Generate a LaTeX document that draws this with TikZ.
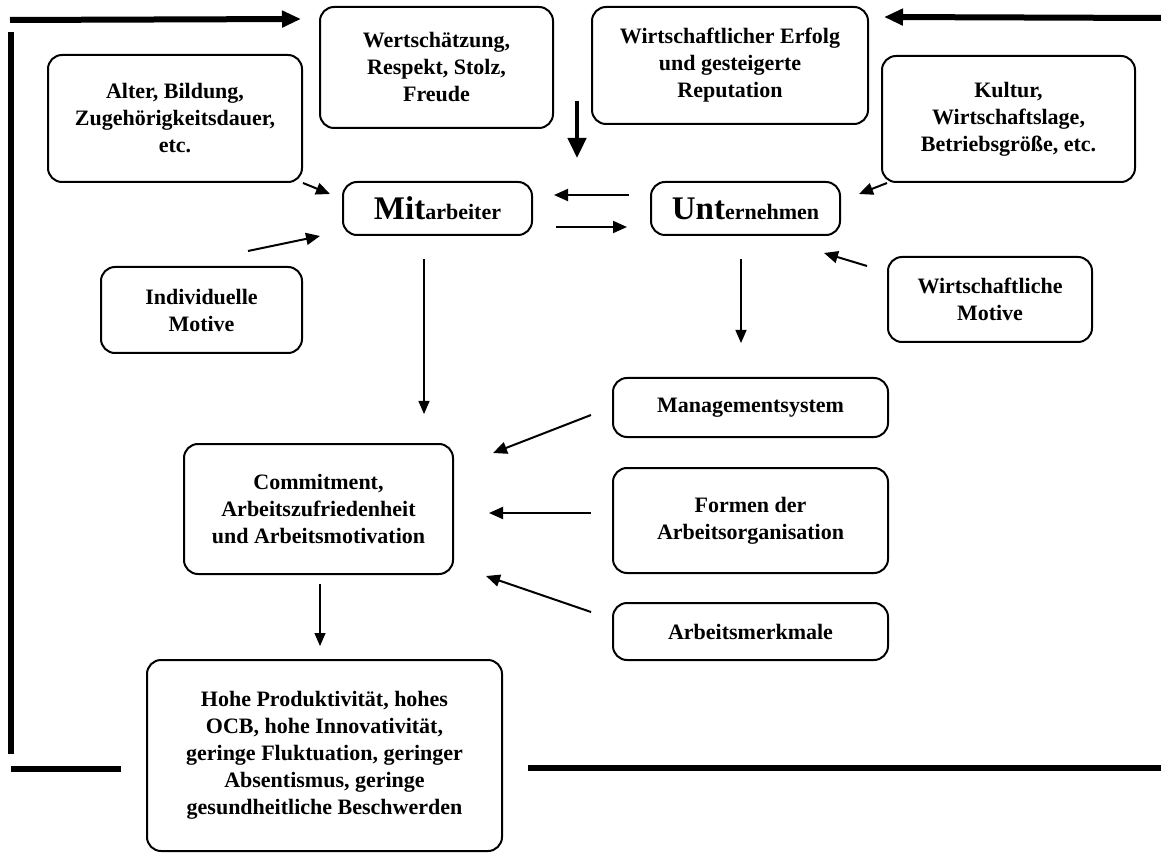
\documentclass[tikz,border=0pt]{standalone}
\usepackage{fontspec}
\setmainfont{Liberation Serif}
\usetikzlibrary{arrows.meta, positioning}

\begin{document}
\begin{tikzpicture}[x=0.5pt, y=-0.5pt,
    feld/.style={draw, line width=1pt, rounded corners=7pt, align=center, inner sep=0pt,
      font=\fontsize{11}{13.5}\selectfont\bfseries},
    pfeil/.style={line width=1pt, -{Triangle[length=7pt, width=6pt]}},
    duenn/.style={line width=0.7pt, -{Triangle[length=6.5pt, width=5.5pt]}},
    dick/.style={line width=2.3pt, -{Triangle[length=10pt, width=9pt]}},
    rueck/.style={line width=3pt},
    rueckpfeil/.style={line width=3pt, -{Triangle[length=9.5pt, width=8pt]}}]
    \useasboundingbox (0,0) rectangle (1161,855);

    % Mitarbeiter und Unternehmen
    \node[feld, minimum width=94.5pt, minimum height=26.5pt] (mit) at (437.5,208.5)
      {{\fontsize{16.5}{16}\selectfont Mit}arbeiter};
    \node[feld, minimum width=94.5pt, minimum height=26.5pt] (unt) at (745.5,208.5)
      {{\fontsize{16.5}{16}\selectfont Unt}ernehmen};

    % Einflussfaktoren
    \node[feld, minimum width=116.5pt, minimum height=60.5pt] (wert) at (436.5,67.5)
      {Wertschätzung,\\Respekt, Stolz,\\Freude};
    \node[feld, minimum width=138pt, minimum height=58.5pt] (erfolg) at (730,65.5)
      {Wirtschaftlicher Erfolg\\und gesteigerte\\Reputation};
    \node[feld, minimum width=127pt, minimum height=63.5pt] (alter) at (175,118.5)
      {Alter, Bildung,\\Zugehörigkeitsdauer,\\etc.};
    \node[feld, minimum width=126.5pt, minimum height=63pt] (kultur) at (1008.5,119)
      {Kultur,\\Wirtschaftslage,\\Betriebsgröße, etc.};
    \node[feld, minimum width=100.5pt, minimum height=43pt] (indiv) at (201.5,310)
      {Individuelle\\Motive};
    \node[feld, minimum width=102pt, minimum height=42.5pt] (wmot) at (990,299.5)
      {Wirtschaftliche\\Motive};

    % Arbeitsbedingungen
    \node[feld, minimum width=137.5pt, minimum height=29.5pt] (mgmt) at (750.5,407.5)
      {Managementsystem};
    \node[feld, minimum width=137.5pt, minimum height=52.5pt] (formen) at (750.5,520.5)
      {Formen der\\Arbeitsorganisation};
    \node[feld, minimum width=137.5pt, minimum height=28.5pt] (amerk) at (750.5,631.5)
      {Arbeitsmerkmale};

    % Einstellungen und Ergebnisse
    \node[feld, minimum width=134.5pt, minimum height=65pt] (commit) at (318.5,509)
      {Commitment,\\Arbeitszufriedenheit\\und Arbeitsmotivation};
    \node[feld, minimum width=177.5pt, minimum height=95.5pt] (hohe) at (324.5,755.5)
      {Hohe Produktivität, hohes\\OCB, hohe Innovativität,\\geringe Fluktuation, geringer\\Absentismus, geringe\\gesundheitliche Beschwerden};

    % Einfluesse auf Mitarbeiter
    \draw[pfeil] (alter.south east) -- ([shift={(-12,13)}]mit.north west);
    \draw[pfeil] ([shift={(-55,-15)}]indiv.north east) -- ([shift={(-22,0)}]mit.south west);
    % Wechselwirkung
    \draw[pfeil] ([shift={(-21,-13.5)}]unt.west) -- ([shift={(21,-13.5)}]mit.east);
    \draw[pfeil] ([shift={(23,18.5)}]mit.east) -- ([shift={(-23,18.5)}]unt.west);
    % Einfluesse auf Unternehmen
    \draw[pfeil] ([shift={(6,0)}]kultur.south west) -- ([shift={(18,13)}]unt.north east);
    \draw[pfeil] ([shift={(-20,10)}]wmot.north west) -- ([shift={(-17,17)}]unt.south east);
    \draw[dick] ([shift={(23,-28)}]wert.south east) -- ++(0,57);

    % Wirkung nach unten
    \draw[duenn] ([shift={(-13.5,23)}]mit.south) -- ++(0,155);
    \draw[duenn] ([shift={(-4.5,23)}]unt.south) -- ++(0,84);
    \draw[pfeil] ([shift={(-21,7.5)}]mgmt.west) -- ([shift={(39,10)}]commit.north east);
    \draw[pfeil] ([shift={(-21,-7.5)}]formen.west) -- ([shift={(35,4)}]commit.east);
    \draw[pfeil] ([shift={(-21,-19.5)}]amerk.west) -- ([shift={(32,1)}]commit.south east);
    \draw[duenn] ([shift={(1.5,9)}]commit.south) -- ++(0,62);

    % Rueckkopplung
    \coordinate (lo) at (10,20);
    \coordinate (ro) at (1161,18);
    \coordinate (lu) at (11,769);
    \coordinate (ru) at (1161,768);
    \draw[rueckpfeil] (lo) -- ([shift={(-18,13)}]wert.north west);
    \draw[rueckpfeil] (ro) -- ([shift={(15,11)}]erfolg.north east);
    \draw[rueck] ([shift={(1,12)}]lo) -- ([shift={(0,-15)}]lu);
    \draw[rueck] (lu) -- ([shift={(-25,13.5)}]hohe.west);
    \draw[rueck] ([shift={(25,12.5)}]hohe.east) -- (ru);
\end{tikzpicture}
\end{document}
